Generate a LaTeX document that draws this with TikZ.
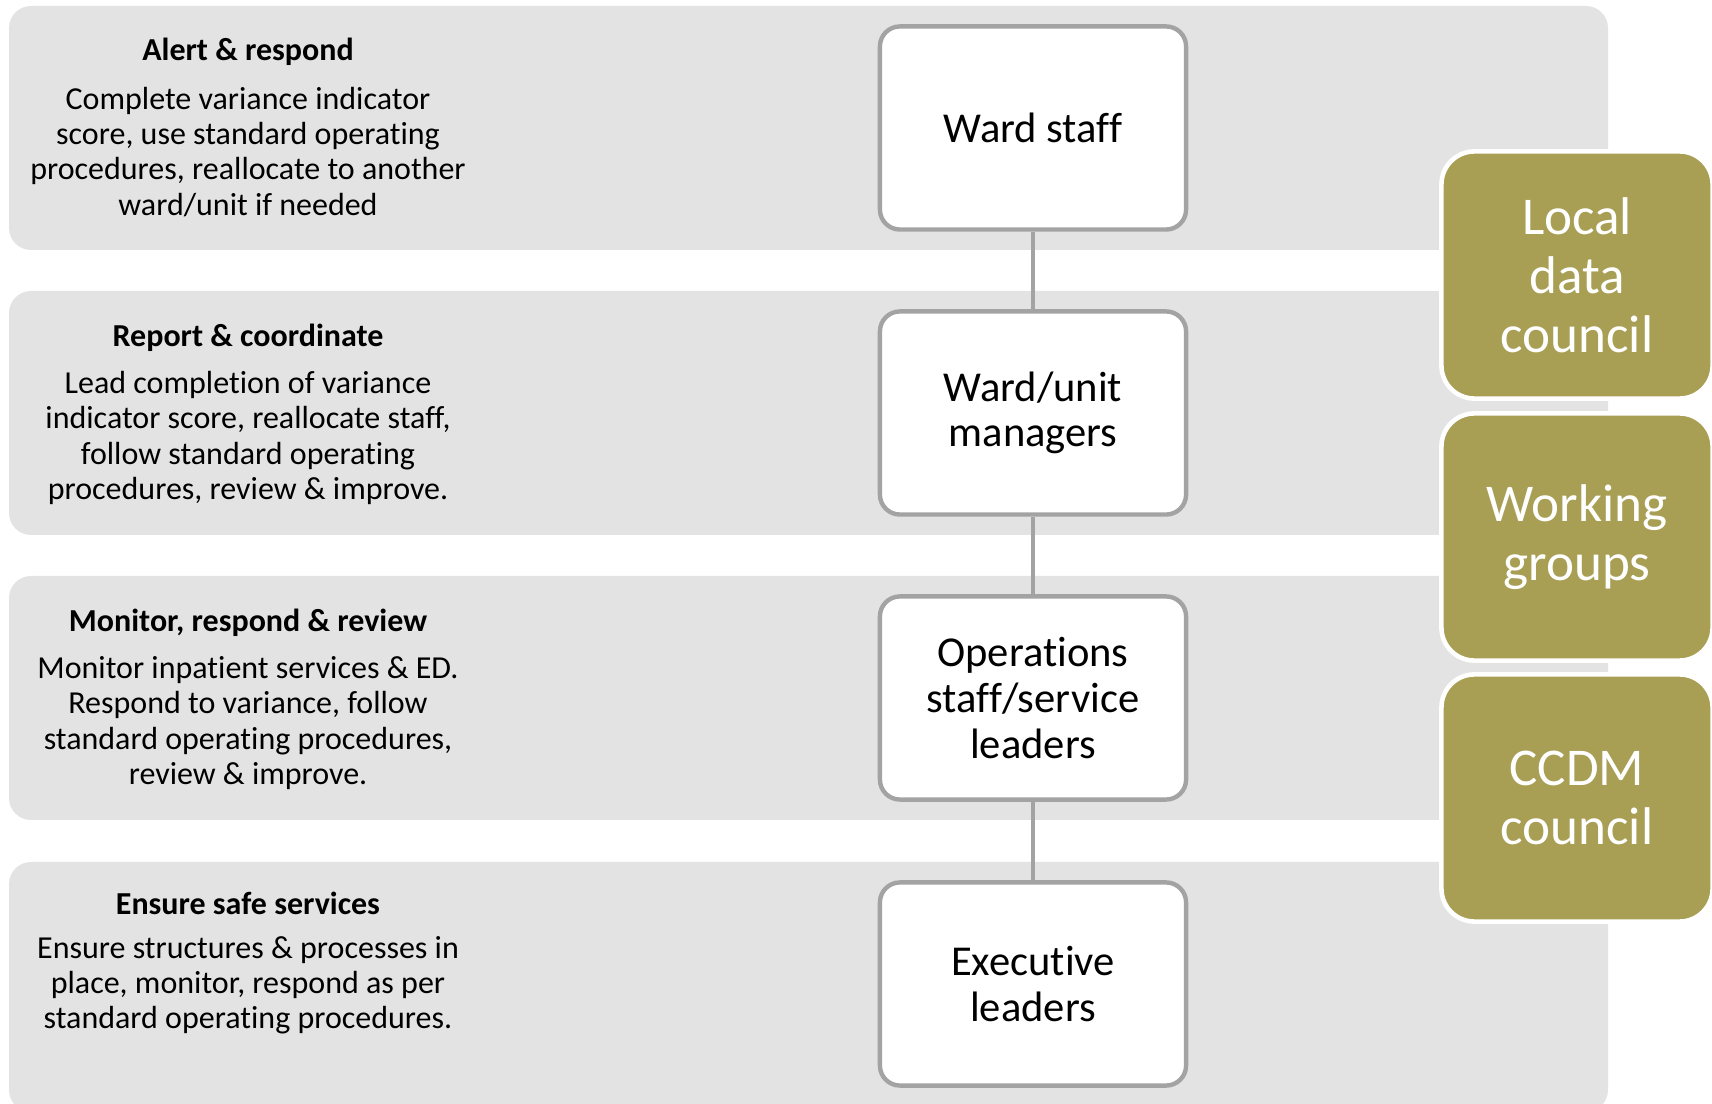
\documentclass[tikz,border=0pt]{standalone}
\usepackage{fontspec}
\setmainfont{Carlito}[Ligatures=NoCommon]
\usetikzlibrary{positioning}
\definecolor{bandgray}{HTML}{E3E3E3}
\definecolor{boxline}{HTML}{A3A3A3}
\definecolor{olive}{HTML}{A89F55}

\begin{document}
\begin{tikzpicture}[x=0.01cm,y=-0.01cm,
  band/.style={fill=bandgray,rounded corners=0.22cm},
  role/.style={draw=boxline,line width=1.25pt,fill=white,rounded corners=0.2cm,
    minimum width=3.06cm,minimum height=2.03cm,align=center,
    font=\fontsize{12.1}{13}\selectfont},
  council/.style={fill=olive,draw=white,line width=1.3pt,rounded corners=0.33cm,
    minimum width=2.71cm,minimum height=2.47cm,align=center,text=white,
    font=\fontsize{15.1}{16.8}\selectfont},
  head/.style={font=\bfseries\fontsize{9.1}{10}\selectfont},
  duty/.style={align=center,font=\fontsize{9.1}{10}\selectfont},
  link/.style={draw=boxline,line width=0.95pt}]
  \useasboundingbox (0,0) rectangle (1712,1104);

  % grey bands
  \fill[band] (9,6) rectangle (1608,250);
  \fill[band] (9,291) rectangle (1608,535);
  \fill[band] (9,576) rectangle (1608,820);
  \fill[band] (9,862) rectangle (1608,1112);

  % left column texts
  \node[head] (t1) at (248,52) {Alert \& respond};
  \node[duty] (d1) at (248,152) {Complete variance indicator\\score, use standard operating\\procedures, reallocate to another\\ward/unit if needed};
  \node[head] (t2) at (248,338) {Report \& coordinate};
  \node[duty] (d2) at (248,438) {Lead completion of variance\\indicator score, reallocate staff,\\follow standard operating\\procedures, review \& improve.};
  \node[head] (t3) at (248,623) {Monitor, respond \& review};
  \node[duty] (d3) at (248,723) {Monitor inpatient services \& ED.\\Respond to variance, follow\\standard operating procedures,\\review \& improve.};
  \node[head] (t4) at (248,903) {Ensure safe services};
  \node[duty] (d4) at (248,985) {Ensure structures \& processes in\\place, monitor, respond as per\\standard operating procedures.};

  % chain of roles
  \node[role] (ward) at (1033,128) {Ward staff};
  \node[role] (unit) at (1033,413) {Ward/unit\\managers};
  \node[role] (ops) at (1033,698) {Operations\\staff/service\\leaders};
  \node[role] (exec) at (1033,984) {Executive\\leaders};
  \draw[link] (ward) -- (unit);
  \draw[link] (unit) -- (ops);
  \draw[link] (ops) -- (exec);

  % councils
  \node[council] (local) at (1577,275) {Local\\data\\council};
  \node[council] (groups) at (1577,537) {Working\\groups};
  \node[council] (ccdm) at (1577,798) {CCDM\\council};
\end{tikzpicture}
\end{document}
